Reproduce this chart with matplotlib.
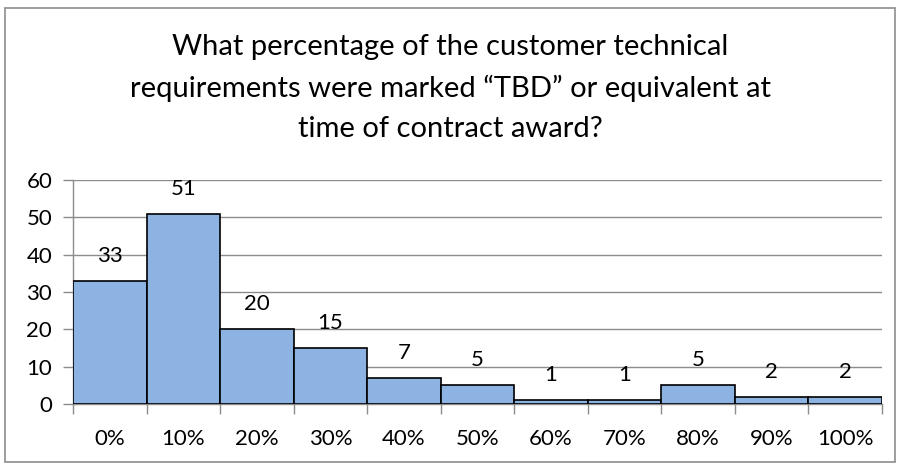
import matplotlib
matplotlib.use("Agg")
import matplotlib.pyplot as plt
from matplotlib.patches import Rectangle

categories = ["0%", "10%", "20%", "30%", "40%", "50%", "60%", "70%", "80%", "90%", "100%"]
values = [33, 51, 20, 15, 7, 5, 1, 1, 5, 2, 2]
title = "What percentage of the customer technical\nrequirements were marked \u201cTBD\u201d or equivalent at\ntime of contract award?"

plt.rcParams['font.family'] = ['Lato', 'DejaVu Sans']

fig = plt.figure(figsize=(9, 4.66), dpi=100)
fig.patches.append(Rectangle((5/900, 4/466), 890/900, 454/466, transform=fig.transFigure,
                             fill=False, edgecolor='#8c8c8c', linewidth=1.2))
ax = fig.add_axes([73/900, 1 - 404/466, (882-73)/900, (404-180)/466])

x = list(range(len(categories)))
ax.bar(x, values, width=1.0, color='#8DB3E2', edgecolor='black', linewidth=1.2, zorder=3)
for xi, v in zip(x, values):
    ax.text(xi, v + 4.0, str(v), ha='center', va='bottom', fontsize=16, zorder=4)

ax.set_xlim(-0.5, len(categories) - 0.5)
ax.set_ylim(0, 60)
ax.set_yticks(range(0, 61, 10))
ax.yaxis.grid(True, color='#8c8c8c', linewidth=1.0, zorder=0)
ax.set_xticks([i - 0.5 for i in range(len(categories) + 1)], minor=False)
ax.set_xticklabels([])
ax.set_xticks(x, minor=True)
ax.set_xticklabels(categories, minor=True, fontsize=16)
ax.tick_params(axis='x', which='minor', length=0, pad=18)
ax.tick_params(axis='x', which='major', length=7, color='#8c8c8c', width=1.0)
ax.tick_params(axis='y', length=7, color='#8c8c8c', width=1.0, labelsize=16, pad=8)
for s in ['top', 'right']:
    ax.spines[s].set_visible(False)
for s in ['left', 'bottom']:
    ax.spines[s].set_color('#8c8c8c')
    ax.spines[s].set_linewidth(1.0)

fig.text(0.5, 1 - 88/466, title, ha='center', va='center', fontsize=21, linespacing=1.68)

fig.savefig("out.png", dpi=100)
